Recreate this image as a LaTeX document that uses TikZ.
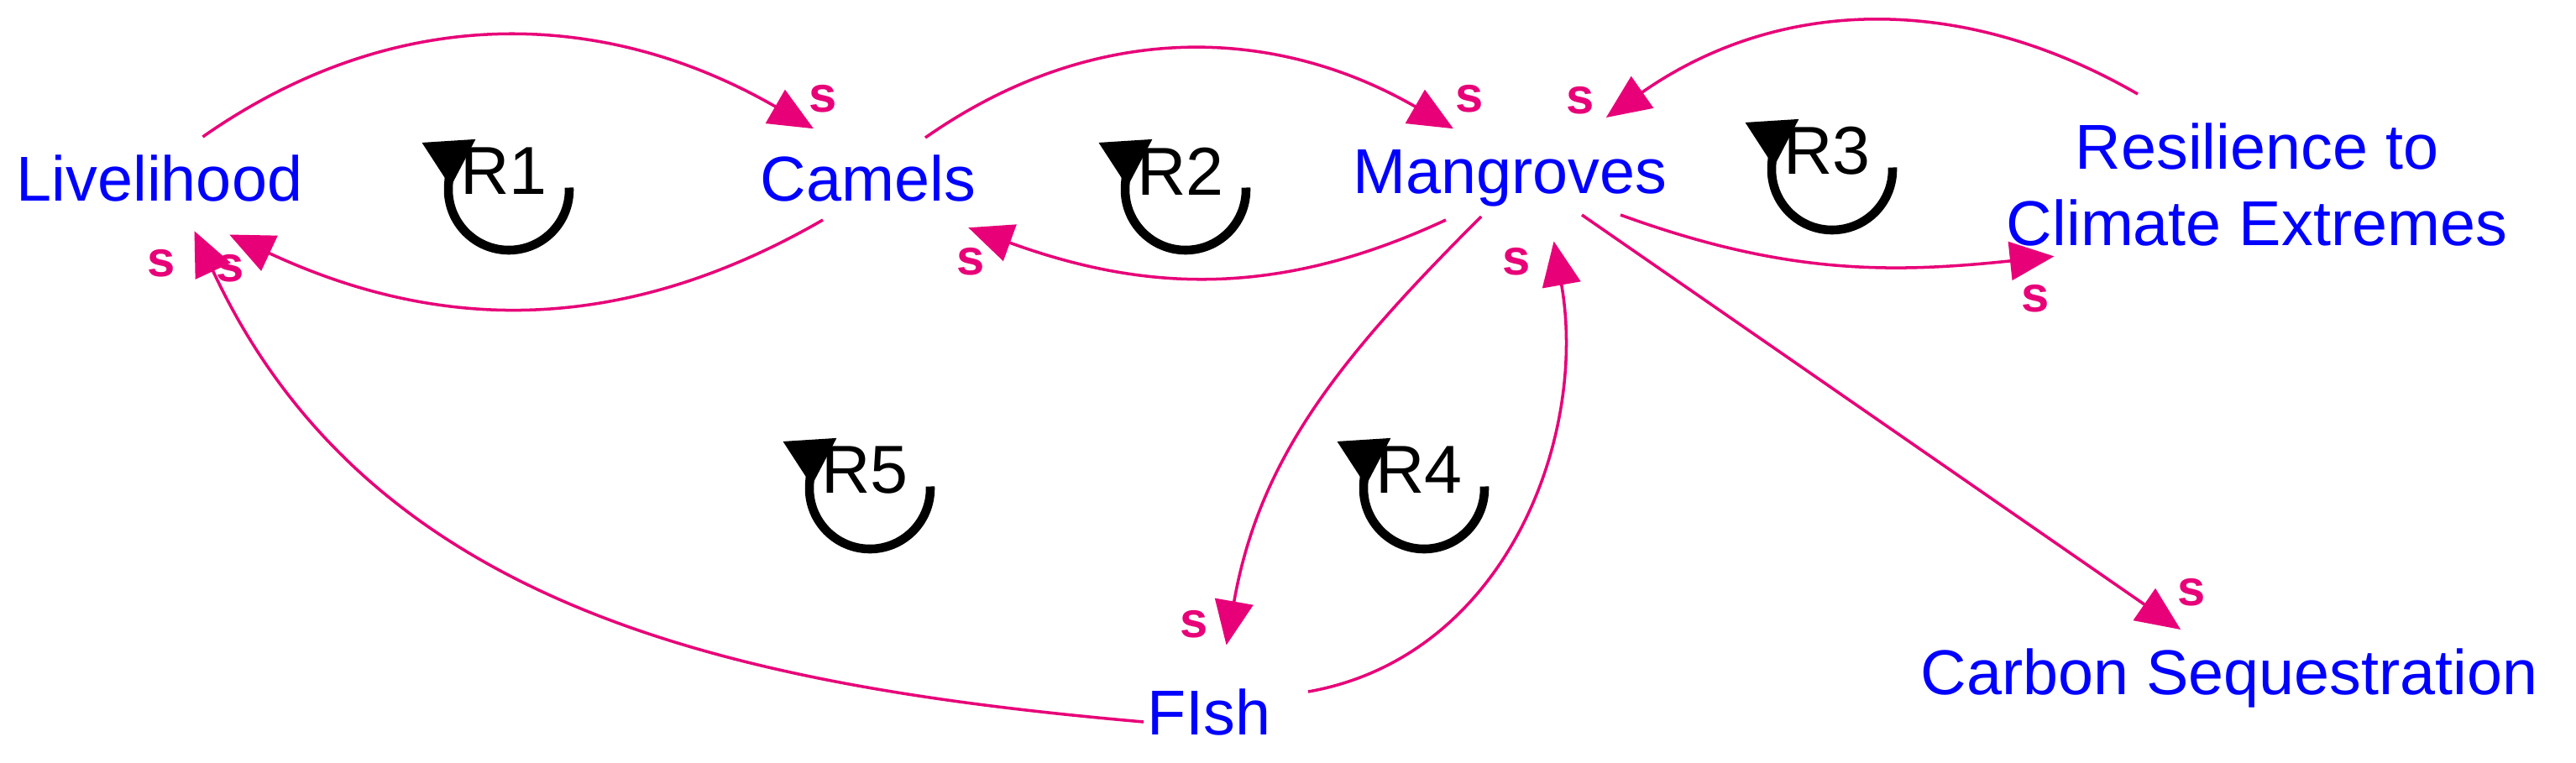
\documentclass[tikz,border=0pt]{standalone}
\usepackage{fontspec}
\setmainfont{Liberation Sans}
\usetikzlibrary{arrows.meta}
\definecolor{lpink}{RGB}{232,0,120}
\definecolor{vblue}{RGB}{0,0,255}
\tikzset{
 var/.style={text=vblue,font=\fontsize{21.5}{26}\selectfont,inner sep=3pt,align=center},
 link/.style={draw=lpink,line width=1pt,-{Triangle[length=15pt,width=13pt]},shorten >=1pt},
 pol/.style={text=lpink,font=\fontsize{17}{19}\selectfont\bfseries},
 loopsym/.style={font=\fontsize{23}{26}\selectfont},
}
\newcommand{\loopat}[3]{%
 \node[loopsym] (#1) at (#2) {#3};
 \draw[line width=3pt,-{Triangle[length=16pt,width=17pt]}] ([xshift=0.06cm,yshift=-0.22cm]#1.center) ++(2:0.72) arc (2:-237:0.72);}
\begin{document}
\begin{tikzpicture}
\useasboundingbox (0,0) rectangle (30.68,-9.08);
\node[var] (liv) at (1.90,-2.12) {Livelihood};
\node[var] (cam) at (10.34,-2.12) {Camels};
\node[var] (man) at (17.98,-2.12) {Mangroves};
\node[var] (res) at (26.88,-2.20) {Resilience to\\Climate Extremes};
\node[var] (fish) at (14.40,-8.48) {FIsh};
\node[var] (car) at (26.55,-8.08) {Carbon Sequestration};
% links
\draw[link] (liv.40) ++(0.05,0.1) coordinate (a1) (a1) to[out=35,in=150] (9.72,-1.55);
\draw[link] (9.80,-2.62) to[out=-150,in=-25] (2.70,-2.78);
\draw[link] (11.02,-1.64) to[out=35,in=150] (17.34,-1.55);
\draw[link] (17.22,-2.62) to[out=-155,in=-20] (11.50,-2.70);
\draw[link] (25.46,-1.12) to[out=150,in=35] (19.10,-1.42);
\draw[link] (19.30,-2.56) to[out=-20,in=-174] (24.50,-3.05);
\draw[link] (17.64,-2.58) to[out=-135,in=80] (14.60,-7.72);
\draw[link] (15.58,-8.24) to[out=10,in=-80] (18.50,-2.84);
\draw[link] (13.62,-8.60) to[out=175,in=-65] (2.30,-2.72);
\draw[link] (18.84,-2.56) -- (26.00,-7.52);
% polarity
\node[pol] (p1) at (9.80,-1.18) {s};
\node[pol] (p2) at (2.74,-3.20) {s};
\node[pol] (p3) at (17.50,-1.18) {s};
\node[pol] (p4) at (11.56,-3.12) {s};
\node[pol] (p5) at (18.82,-1.20) {s};
\node[pol] (p6) at (24.24,-3.56) {s};
\node[pol] (p7) at (14.22,-7.44) {s};
\node[pol] (p8) at (18.06,-3.12) {s};
\node[pol] (p9) at (1.92,-3.14) {s};
\node[pol] (p10) at (26.10,-7.06) {s};
% loops
\loopat{r1}{6.00,-2.04}{R1}
\loopat{r2}{14.06,-2.04}{R2}
\loopat{r3}{21.76,-1.80}{R3}
\loopat{r4}{16.90,-5.60}{R4}
\loopat{r5}{10.30,-5.60}{R5}
\end{tikzpicture}
\end{document}
